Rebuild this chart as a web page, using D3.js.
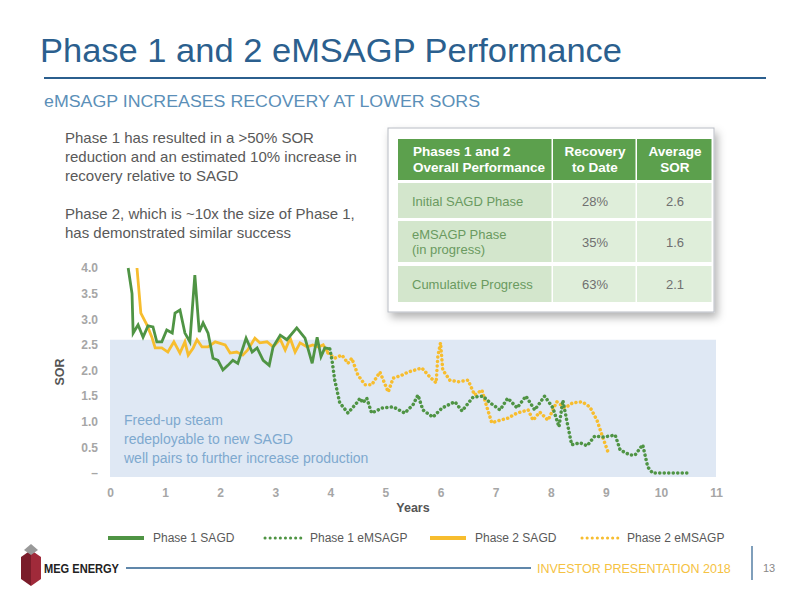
<!DOCTYPE html>
<html><head><meta charset="utf-8">
<script src="https://cdn.jsdelivr.net/npm/d3@7"></script>
<style>body{margin:0;background:#fff}svg{display:block;font-family:"Liberation Sans",Arial,sans-serif}</style>
</head><body><svg id="c" width="800" height="600"></svg>
<script>
const p1Sagd=[[0.33,4.0],[0.40,3.5],[0.42,2.73],[0.51,2.89],[0.6,2.65],[0.69,2.87],[0.78,2.85],[0.85,2.56],[0.94,2.56],[1.03,2.79],[1.13,2.73],[1.18,3.12],[1.27,3.18],[1.36,2.73],[1.45,2.56],[1.54,3.86],[1.62,2.75],[1.69,2.93],[1.78,2.73],[1.87,2.24],[1.96,2.2],[2.05,2.01],[2.14,2.1],[2.23,2.2],[2.32,2.14],[2.47,2.63],[2.58,2.36],[2.67,2.44],[2.78,2.2],[2.89,2.1],[2.96,2.46],[3.09,2.69],[3.21,2.6],[3.39,2.83],[3.54,2.63],[3.67,2.14],[3.76,2.65],[3.83,2.27],[3.9,2.44],[3.99,2.42]];
const p1Em=[[3.99,2.42],[4.03,2.2],[4.08,1.81],[4.17,1.37],[4.32,1.17],[4.48,1.37],[4.54,1.46],[4.59,1.37],[4.66,1.46],[4.75,1.17],[4.94,1.27],[5.14,1.29],[5.35,1.17],[5.5,1.33],[5.59,1.52],[5.68,1.23],[5.86,1.09],[6.03,1.27],[6.26,1.39],[6.39,1.21],[6.59,1.48],[6.77,1.5],[6.9,1.37],[7.08,1.23],[7.22,1.46],[7.39,1.27],[7.55,1.5],[7.71,1.23],[7.89,1.5],[8.04,1.27],[8.15,0.9],[8.22,1.42],[8.29,1.03],[8.38,0.55],[8.53,0.59],[8.66,0.53],[8.8,0.72],[8.95,0.7],[9.17,0.74],[9.26,0.45],[9.44,0.35],[9.53,0.35],[9.67,0.55],[9.76,0.12],[9.85,0],[10.53,0]];
const p2Sagd=[[0.49,4.0],[0.56,3.12],[0.67,2.89],[0.76,2.65],[0.82,2.44],[0.94,2.44],[1.05,2.36],[1.16,2.56],[1.27,2.34],[1.36,2.56],[1.42,2.3],[1.51,2.44],[1.58,2.6],[1.67,2.46],[1.78,2.46],[1.91,2.56],[2.09,2.5],[2.18,2.34],[2.3,2.36],[2.41,2.3],[2.5,2.4],[2.63,2.63],[2.72,2.54],[2.85,2.56],[2.96,2.46],[3.09,2.61],[3.18,2.4],[3.27,2.63],[3.36,2.36],[3.45,2.54],[3.58,2.46],[3.68,2.5],[3.78,2.46],[3.87,2.5],[3.96,2.34]];
const p2Em=[[3.96,2.34],[4.08,2.24],[4.21,2.3],[4.32,2.14],[4.39,2.24],[4.5,1.91],[4.63,1.72],[4.75,1.72],[4.9,1.97],[5.05,1.58],[5.14,1.85],[5.3,1.91],[5.41,1.97],[5.54,2.01],[5.66,2.05],[5.81,1.87],[5.92,1.76],[5.95,2.27],[6.0,2.54],[6.04,2.01],[6.17,1.81],[6.32,1.78],[6.5,1.81],[6.62,1.52],[6.75,1.62],[6.84,1.29],[6.93,0.98],[7.08,1.03],[7.22,1.07],[7.39,1.17],[7.59,1.23],[7.68,1.03],[7.8,1.19],[7.95,1.03],[8.11,1.39],[8.26,1.27],[8.4,1.37],[8.57,1.39],[8.71,1.29],[8.84,1.03],[8.93,0.74],[9.04,0.41]];
const xTicks=[0,1,2,3,4,5,6,7,8,9,10,11];
const yTicks=[0,0.5,1,1.5,2,2.5,3,3.5,4];
const shadeTop=2.6;
const tableHead=["Phases 1 and 2\nOverall Performance","Recovery\nto Date","Average\nSOR"];
const tableRows=[["Initial SAGD Phase","28%","2.6"],["eMSAGP Phase\n(in progress)","35%","1.6"],["Cumulative Progress","63%","2.1"]];
const legendItems=[["Phase 1 SAGD","#4f9444",false],["Phase 1 eMSAGP","#4f9444",true],["Phase 2 SAGD","#f7bd2e",false],["Phase 2 eMSAGP","#f7bd2e",true]];

const svg=d3.select("#c");
const G="#4f9444",Y="#f7bd2e",gray="#a6a6a6";
svg.append("text").attr("x",40).attr("y",62).attr("font-size",33).attr("fill","#2b5f8e").attr("textLength",582).attr("lengthAdjust","spacingAndGlyphs").text("Phase 1 and 2 eMSAGP Performance");
svg.append("line").attr("x1",44).attr("x2",766).attr("y1",78).attr("y2",78).attr("stroke","#2b5f8e").attr("stroke-width",2);
svg.append("text").attr("x",44).attr("y",107).attr("font-size",16).attr("fill","#5b8fb8").attr("textLength",436).attr("lengthAdjust","spacingAndGlyphs").text("eMSAGP INCREASES RECOVERY AT LOWER SORS");
const para=["Phase 1 has resulted in a >50% SOR","reduction and an estimated 10% increase in","recovery relative to SAGD","","Phase 2, which is ~10x the size of Phase 1,","has demonstrated similar success"];
para.forEach((t,i)=>svg.append("text").attr("x",65).attr("y",143+i*19).attr("font-size",15).attr("fill","#595959").text(t));

const x=d3.scaleLinear().domain([0,11]).range([110,716]);
const y=d3.scaleLinear().domain([0,4]).range([473,268]);
svg.append("rect").attr("x",x(0)).attr("y",y(shadeTop)).attr("width",x(11)-x(0)).attr("height",y(0)-y(shadeTop)+4).attr("fill","#dfe8f4");
["Freed-up steam","redeployable to new SAGD","well pairs to further increase production"].forEach((t,i)=>svg.append("text").attr("x",124).attr("y",425+i*19).attr("font-size",14).attr("fill","#7ea9cf").text(t));
const ax=svg.append("g").attr("transform","translate(0,485)").call(d3.axisBottom(x).tickValues(xTicks).tickSize(0));
ax.select(".domain").remove();
ax.selectAll("text").attr("font-size",12).attr("font-weight","bold").attr("fill",gray).attr("font-family","Liberation Sans");
const ay=svg.append("g").attr("transform","translate(101,0)").call(d3.axisLeft(y).tickValues(yTicks).tickSize(0).tickFormat(d=>d===0?"–":d3.format(".1f")(d)));
ay.select(".domain").remove();
ay.selectAll("text").attr("font-size",12).attr("font-weight","bold").attr("fill",gray).attr("font-family","Liberation Sans");
svg.append("text").attr("x",413).attr("y",512).attr("text-anchor","middle").attr("font-size",12.5).attr("font-weight","bold").attr("fill","#555").text("Years");
svg.append("text").attr("transform","translate(64,372) rotate(-90)").attr("text-anchor","middle").attr("font-size",12.5).attr("font-weight","bold").attr("fill","#555").text("SOR");
const line=d3.line().x(d=>x(d[0])).y(d=>y(d[1]));
const dot="0.1 4.4";
svg.append("path").datum(p2Em).attr("d",line).attr("fill","none").attr("stroke",Y).attr("stroke-width",3.5).attr("stroke-linecap","round").attr("stroke-dasharray",dot);
svg.append("path").datum(p1Em).attr("d",line).attr("fill","none").attr("stroke",G).attr("stroke-width",3.5).attr("stroke-linecap","round").attr("stroke-dasharray",dot);
svg.append("path").datum(p2Sagd).attr("d",line).attr("fill","none").attr("stroke",Y).attr("stroke-width",2.8);
svg.append("path").datum(p1Sagd).attr("d",line).attr("fill","none").attr("stroke",G).attr("stroke-width",2.8);

// table
const defs=svg.append("defs");
const f=defs.append("filter").attr("id","sh").attr("x","-10%").attr("y","-10%").attr("width","130%").attr("height","130%");
f.append("feDropShadow").attr("dx",3).attr("dy",5).attr("stdDeviation",4).attr("flood-color","#000").attr("flood-opacity",0.3);
svg.append("rect").attr("x",388).attr("y",128).attr("width",326).attr("height",184).attr("fill","#fff").attr("stroke","#b8bcc4").attr("filter","url(#sh)");
const cx=[398,553,637,713];
const ry=[[139,180],[183,218],[221,262],[266,302]];
for(let c=0;c<3;c++){
  svg.append("rect").attr("x",cx[c]).attr("y",ry[0][0]).attr("width",cx[c+1]-cx[c]-1.5).attr("height",ry[0][1]-ry[0][0]).attr("fill","#5ca04d");
  const ls=tableHead[c].split("\n");
  ls.forEach((t,i)=>svg.append("text").attr("x",c===0?cx[0]+15:(cx[c]+cx[c+1])/2).attr("text-anchor",c===0?"start":"middle").attr("y",156+i*16).attr("font-size",13.5).attr("font-weight","bold").attr("fill","#fff").text(t));
  tableRows.forEach((r,j)=>{
    const [a,b]=ry[j+1];
    svg.append("rect").attr("x",cx[c]).attr("y",a).attr("width",cx[c+1]-cx[c]-1.5).attr("height",b-a).attr("fill",c===0?"#d3e6cc":"#dfeeda");
    const ls2=r[c].split("\n");
    const mid=(a+b)/2;
    ls2.forEach((t,i)=>svg.append("text").attr("x",c===0?cx[0]+14:(cx[c]+cx[c+1])/2).attr("text-anchor",c===0?"start":"middle").attr("y",mid+5+(i-(ls2.length-1)/2)*15).attr("font-size",13).attr("fill",c===0?"#6a9a60":"#707070").text(t));
  });
}
// legend
const lx=[108,265,430,582];
legendItems.forEach((it,i)=>{
  svg.append("line").attr("x1",lx[i]).attr("x2",lx[i]+36).attr("y1",538).attr("y2",538).attr("stroke",it[1]).attr("stroke-width",it[2]?3:4).attr("stroke-linecap",it[2]?"round":"butt").attr("stroke-dasharray",it[2]?"0.1 5":null);
  svg.append("text").attr("x",lx[i]+45).attr("y",542).attr("font-size",12).attr("fill","#595959").text(it[0]);
});
// footer
const lg=svg.append("g");
lg.append("path").attr("d","M21,557 L31,550 L31,586 L21,579Z").attr("fill","#7a1c2a");
lg.append("path").attr("d","M31,550 L41,557 L41,579 L31,586Z").attr("fill","#a02a3a");
lg.append("path").attr("d","M24,550 L31,544 L38,550 L31,555Z").attr("fill","#999");
svg.append("text").attr("x",44).attr("y",573).attr("font-size",12).attr("font-weight","bold").attr("fill","#222").attr("textLength",75).attr("lengthAdjust","spacingAndGlyphs").text("MEG ENERGY");
svg.append("line").attr("x1",126).attr("x2",531).attr("y1",568).attr("y2",568).attr("stroke","#2b5f8e").attr("stroke-width",1.5);
svg.append("text").attr("x",537).attr("y",573).attr("font-size",12.5).attr("fill","#f5c242").text("INVESTOR PRESENTATION 2018");
svg.append("line").attr("x1",752).attr("x2",752).attr("y1",546).attr("y2",580).attr("stroke","#2b5f8e").attr("stroke-width",1.2);
svg.append("text").attr("x",763).attr("y",572).attr("font-size",11).attr("fill","#888").text("13");
</script></body></html>
